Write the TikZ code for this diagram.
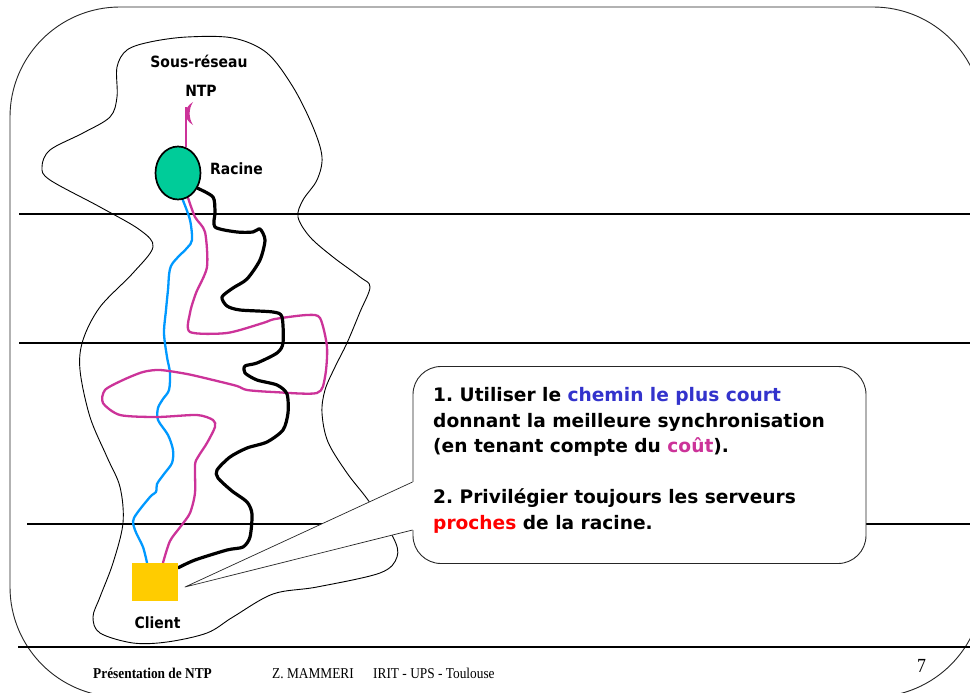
\documentclass[tikz,border=0pt]{standalone}
\usepackage{fontspec}
\usetikzlibrary{shapes.geometric,calc}
\newfontfamily\labfont{DejaVu Sans}[FakeStretch=0.9]
\newfontfamily\callfont{DejaVu Sans}
\newfontfamily\footfont{Liberation Serif}[FakeStretch=0.89]
\definecolor{ntpgreen}{RGB}{0,204,153}
\definecolor{ntpyellow}{RGB}{255,204,0}
\definecolor{ntpblue}{RGB}{0,153,255}
\definecolor{ntpmag}{RGB}{204,51,153}
\definecolor{txtblue}{RGB}{51,51,204}
\definecolor{txtred}{RGB}{255,0,0}
\pgfdeclarelayer{bottom}
\pgfdeclarelayer{mid}
\pgfsetlayers{bottom,mid,main}
\frenchspacing
\tikzset{
  hline/.style={draw=black,line width=1.1pt},
  blob/.style={draw=black,line width=0.9pt},
  bluepath/.style={draw=ntpblue,line width=2.3pt,line cap=round,line join=round},
  magpath/.style={draw=ntpmag,line width=2.3pt,line cap=round,line join=round},
  blackpath/.style={draw=black,line width=3.2pt,line cap=round,line join=round},
  lab/.style={inner sep=0pt,font=\labfont\bfseries\fontsize{15.5}{18}\selectfont},
  calltxt/.style={inner sep=0pt,anchor=base west,font=\callfont\bfseries\fontsize{18.6}{22}\selectfont},
  foot/.style={inner sep=0pt,anchor=base west,font=\footfont\fontsize{15}{18}\selectfont},
}
\begin{document}
\begin{tikzpicture}[x=1pt,y=-1pt]
\useasboundingbox (0,0) rectangle (970,693);
\clip (0,0) rectangle (970,693);
\begin{pgfonlayer}{bottom}
\fill[white] (0,0) rectangle (970,693);
% slide frame
\draw[black!85,line width=0.9pt,rounded corners=110] (10,7) rectangle (983,697);
% horizontal lines
\draw[hline] (19,214) -- (970,214);
\draw[hline,line width=2pt] (19,343) -- (970,343);
\draw[hline] (27,524) -- (970,524);
\draw[hline,line width=1.4pt] (18,647) -- (970,647);
% sub-network outline
\draw[blob] plot[smooth cycle,tension=0.55] coordinates {
 (187,37) (233,38) (267,53) (293,87) (313,127) (322,157) (317,180) (303,200)
 (298,217) (310,237) (333,257) (360,277) (370,287) (360,312) (347,343) (335,367)
 (325,390) (322,413) (328,442) (347,473) (368,500) (393,537) (397,557) (380,573)
 (317,587) (273,594) (233,617) (207,633) (167,642) (133,643) (100,633) (93,617)
 (100,597) (113,563) (123,523) (120,487) (107,457) (90,417) (80,370) (83,340)
 (100,307) (133,273) (153,247) (140,230) (100,207) (50,180) (42,167) (50,150)
 (83,133) (110,117) (117,97) (117,67) (127,50) (150,42)};
\end{pgfonlayer}
% nodes
\node[fill=ntpyellow,minimum width=46pt,minimum height=38pt,inner sep=0pt] (client) at (155,582) {};
\node[ellipse,draw=black,line width=1.7pt,fill=ntpgreen,minimum width=45pt,minimum height=53pt,inner sep=0pt] (racine) at (178,173) {};
% paths
\begin{pgfonlayer}{mid}
\draw[bluepath] plot[smooth,tension=0.5] coordinates {
 (racine.-80) (190,220) (192,240) (187,248) (171,266) (168,290) (166,310) (164,333)
 (167,357) (170,373) (169,390) (163,399) (158,408) (158,420) (168,435) (173,450)
 (172,463) (164,474) (157,484) (156,492) (150,497) (134,518) (135,530) (143,547)
 ($(client.north)+(-8,0)$)};
\draw[magpath] plot[smooth,tension=0.45] coordinates {
 (racine.-68) (195,217) (205,232) (207,267) (196,293) (190,313) (190,332)
 (227,333) (263,323) (275,319) (307,315) (320,318) (327,347) (325,377) (317,393)
 (273,392) (247,390) (237,386) (213,380) (187,374) (160,370) (143,372) (123,380)
 (105,390) (103,403) (120,415) (157,417) (197,415) (213,420) (215,427) (207,443)
 (198,457) (195,465) (195,493) (190,513) (181,526) (170,541)
 ($(client.north)+(8,0)$)};
\draw[blackpath] plot[smooth,tension=0.45] coordinates {
 (racine.-38) (213,197) (215,212) (215,227) (237,232) (253,232) (260,229) (265,240)
 (260,260) (247,279) (233,288) (222,297) (227,306) (240,310) (273,312) (282,317)
 (283,343) (277,353) (257,363) (245,366) (245,373) (257,380) (277,385) (287,394)
 (288,413) (283,430) (267,442) (247,448) (230,457) (217,470) (218,478) (232,491)
 (247,502) (252,514) (250,537) (243,547) (227,550) (195,560)
 ($(client.north east)+(0,5)$)};
% line above root with crescent
\draw[ntpmag,line width=2pt] (racine.73) -- (racine.73 |- 0,107);
\fill[ntpmag] (193,102) .. controls (183,108) and (183,119) .. (193,125)
  .. controls (188.5,118) and (188.5,109) .. (193,102) -- cycle;
\end{pgfonlayer}
% labels
\node[lab,anchor=base] (lsous) at (199,68) {Sous-réseau};
\node[lab,anchor=base] (lntp) at (201,96) {NTP};
\node[lab,anchor=base west] (lrac) at (210,174) {Racine};
\node[lab,anchor=base] (lcli) at (157.5,628) {Client};
% callout
\node[draw=black!85,line width=0.9pt,fill=white,rounded corners=28pt,minimum width=453pt,minimum height=197pt,inner sep=0pt] (note) at (639.5,465) {};
\coordinate (tip) at (185,587);
\coordinate (ta) at (note.west |- 0,482);
\coordinate (tb) at (note.west |- 0,530);
\fill[white] (tip) -- (ta) -- ($(ta)+(3,0)$) -- ($(tb)+(3,0)$) -- (tb) -- cycle;
\draw[black!85,line width=0.7pt,line join=round] (ta) -- (tip) -- (tb);
\node[calltxt] (t1) at (433,401) {1. Utiliser le \textcolor{txtblue}{chemin le plus court}};
\node[calltxt] (t2) at (433,427) {donnant la meilleure synchronisation};
\node[calltxt] (t3) at (433,452) {(en tenant compte du \textcolor{ntpmag}{coût}).};
\node[calltxt] (t4) at (433,503) {2. Privilégier toujours les serveurs};
\node[calltxt] (t5) at (433,529) {\textcolor{txtred}{proches} de la racine.};
% footer
\node[foot,font=\footfont\bfseries\fontsize{15}{18}\selectfont] (f1) at (93,678) {Présentation de NTP};
\node[foot] (f2) at (272,678) {Z. MAMMERI};
\node[foot] (f3) at (373,678) {IRIT - UPS - Toulouse};
\node[foot,font=\footfont\fontsize{20}{24}\selectfont] (f4) at (917,672) {7};
\end{tikzpicture}
\end{document}
